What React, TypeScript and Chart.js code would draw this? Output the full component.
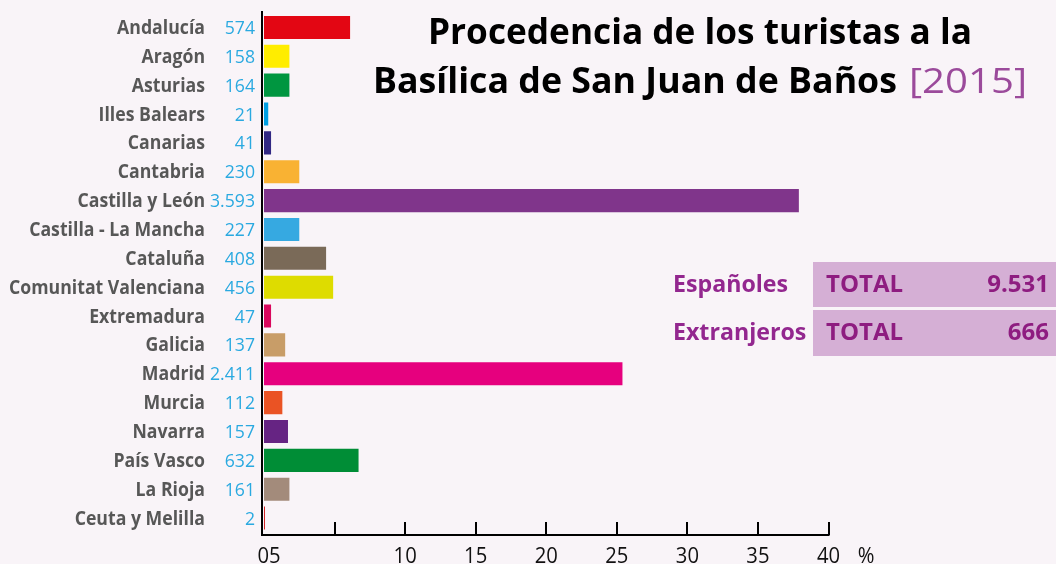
import { useEffect, useRef } from "react";
import { Chart, registerables } from "chart.js";

Chart.register(...registerables);

const regions = [
  "Andalucía", "Aragón", "Asturias", "Illes Balears", "Canarias", "Cantabria",
  "Castilla y León", "Castilla - La Mancha", "Cataluña", "Comunitat Valenciana",
  "Extremadura", "Galicia", "Madrid", "Murcia", "Navarra", "País Vasco",
  "La Rioja", "Ceuta y Melilla",
];
const visitorLabels = [
  "574", "158", "164", "21", "41", "230", "3.593", "227", "408", "456",
  "47", "137", "2.411", "112", "157", "632", "161", "2",
];
const sharePct = [
  6.1, 1.8, 1.8, 0.3, 0.5, 2.5, 37.9, 2.5, 4.4, 4.9,
  0.5, 1.5, 25.4, 1.3, 1.7, 6.7, 1.8, 0.06,
];
const barColors = [
  "#e30613", "#ffed00", "#009640", "#009fe3", "#312783", "#f9b233",
  "#80358b", "#36a9e1", "#7a6a58", "#dedc00", "#d9075d", "#c89d68",
  "#e6007e", "#ea5324", "#662483", "#008d36", "#a38b7b", "#cc0000",
];
const xTickValues = [5, 10, 15, 20, 25, 30, 35, 40];
const xLabelValues = [0, 10, 15, 20, 25, 30, 35, 40];
const xLabelTexts = ["05", "10", "15", "20", "25", "30", "35", "40"];
const titleLine1 = "Procedencia de los turistas a la";
const titleLine2 = "Basílica de San Juan de Baños";
const titleYear = "[2015]";
const totalGroups = ["Españoles", "Extranjeros"];
const totalWord = "TOTAL";
const totalValues = ["9.531", "666"];

const FONT = "'Open Sans', 'DejaVu Sans', sans-serif";

function drawScaled(ctx: CanvasRenderingContext2D, text: string, x: number, y: number, s: number, align: CanvasTextAlign) {
  ctx.save();
  ctx.translate(x, y);
  ctx.scale(s, 1);
  ctx.textAlign = align;
  ctx.textBaseline = "alphabetic";
  ctx.fillText(text, 0, 0);
  ctx.restore();
}
function fitScale(ctx: CanvasRenderingContext2D, text: string, width: number) {
  return width / ctx.measureText(text).width;
}

const decorPlugin = {
  id: "decor",
  beforeDraw(chart: any) {
    const ctx = chart.ctx as CanvasRenderingContext2D;
    ctx.save();
    ctx.fillStyle = "#f9f4f8";
    ctx.fillRect(0, 0, chart.width, chart.height);
    ctx.restore();
  },
  afterDraw(chart: any) {
    const ctx = chart.ctx as CanvasRenderingContext2D;
    const xs = chart.scales.x;
    const ys = chart.scales.y;
    const x0 = xs.getPixelForValue(0);
    const axisY = 535;
    ctx.save();
    // axes
    ctx.strokeStyle = "#000";
    ctx.lineWidth = 2;
    ctx.beginPath();
    ctx.moveTo(x0 - 2, 11);
    ctx.lineTo(x0 - 2, axisY + 1);
    ctx.moveTo(x0 - 3, axisY);
    ctx.lineTo(xs.getPixelForValue(40) + 1, axisY);
    xTickValues.forEach((v) => {
      const px = Math.round(xs.getPixelForValue(v));
      ctx.moveTo(px, axisY - 13);
      ctx.lineTo(px, axisY);
    });
    ctx.stroke();

    // x tick labels
    ctx.fillStyle = "#111";
    ctx.font = `22px ${FONT}`;
    const ts = 0.92;
    xLabelValues.forEach((v, i) => {
      let px = xs.getPixelForValue(v);
      if (v === 0) px += 5;
      drawScaled(ctx, xLabelTexts[i], px, 563, ts, "center");
    });
    drawScaled(ctx, "%", 866, 563, ts, "center");

    // category labels
    ctx.font = `bold 19px ${FONT}`;
    const ns = fitScale(ctx, "Comunitat Valenciana", 196);
    ctx.fillStyle = "#575757";
    regions.forEach((r, i) => {
      const py = ys.getPixelForValue(i);
      drawScaled(ctx, r, 205, py + 6.5, ns, "right");
    });
    ctx.font = `19px ${FONT}`;
    const cs = fitScale(ctx, "3.593", 45);
    ctx.fillStyle = "#2aa9e0";
    visitorLabels.forEach((t, i) => {
      const py = ys.getPixelForValue(i);
      drawScaled(ctx, t, 255, py + 6.5, cs, "right");
    });

    // title
    ctx.fillStyle = "#000";
    ctx.font = `bold 35px ${FONT}`;
    drawScaled(ctx, titleLine1, 700, 44, fitScale(ctx, titleLine1, 544), "center");
    drawScaled(ctx, titleLine2, 373, 93, fitScale(ctx, titleLine2, 524), "left");
    ctx.font = `35px ${FONT}`;
    ctx.fillStyle = "#9b4a9b";
    drawScaled(ctx, titleYear, 909, 93, fitScale(ctx, titleYear, 118), "left");

    // totals
    const boxTops = [262, 310];
    const boxH = [45, 46];
    const bases = [292, 340];
    ctx.font = `bold 23px ${FONT}`;
    const gs = fitScale(ctx, "Españoles", 115);
    ctx.font = `bold 24px ${FONT}`;
    const ws = fitScale(ctx, totalWord, 77);
    totalGroups.forEach((g, i) => {
      ctx.fillStyle = "#d5afd5";
      ctx.fillRect(813, boxTops[i], 1056 - 813, boxH[i]);
      ctx.fillStyle = "#93278f";
      ctx.font = `bold 23px ${FONT}`;
      drawScaled(ctx, g, 673, bases[i], gs, "left");
      ctx.fillStyle = "#8e1c80";
      ctx.font = `bold 24px ${FONT}`;
      drawScaled(ctx, totalWord, 826, bases[i], ws, "left");
      drawScaled(ctx, totalValues[i], 1049, bases[i], ws, "right");
    });
    ctx.restore();
  },
};

export default function App() {
  const ref = useRef<HTMLCanvasElement | null>(null);
  useEffect(() => {
    if (!ref.current) return;
    const chart = new Chart(ref.current, {
      type: "bar",
      data: {
        labels: regions,
        datasets: [
          {
            data: sharePct,
            backgroundColor: barColors,
            borderWidth: 0,
            barPercentage: 0.8,
            categoryPercentage: 1,
          },
        ],
      },
      options: {
        indexAxis: "y",
        animation: false,
        responsive: false,
        devicePixelRatio: 1,
        layout: { padding: { left: 264, right: 1056 - 828.5, top: 13, bottom: 564 - 532.5 } },
        plugins: { legend: { display: false }, tooltip: { enabled: false }, title: { display: false } },
        scales: {
          x: { type: "linear", min: 0, max: 40, display: false, ticks: { stepSize: 5 } },
          y: { type: "category", display: false },
        },
      },
      plugins: [decorPlugin],
    });
    return () => chart.destroy();
  }, []);
  return (
    <div style={{ position: "absolute", left: 0, top: 0, width: 1056, height: 564, overflow: "hidden" }}>
      <canvas ref={ref} width={1056} height={564} />
    </div>
  );
}
